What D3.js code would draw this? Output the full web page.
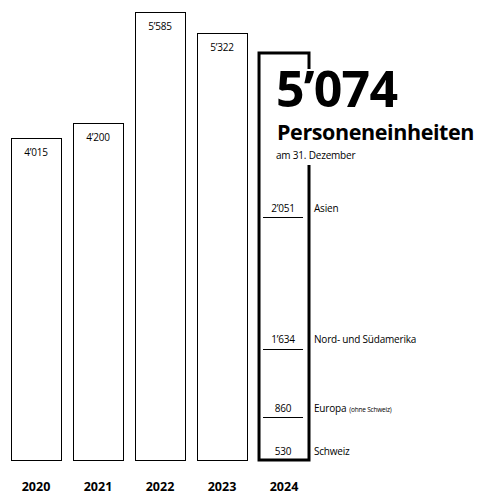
<!DOCTYPE html>
<html>
<head>
<meta charset="utf-8">
<script src="https://cdn.jsdelivr.net/npm/d3@7"></script>
<style>
  html, body { margin: 0; padding: 0; background: #fff; }
  svg { display: block; }
  text { font-family: "Open Sans", "Noto Sans", sans-serif; fill: #000; }
</style>
</head>
<body>
<svg id="chart" width="478" height="496"></svg>
<script>
// Personeneinheiten am 31. Dezember, 2020–2024
const years = ["2020", "2021", "2022", "2023", "2024"];
const totals = [4015, 4200, 5585, 5322, 5074];

// Aufteilung 2024 nach Region (von unten nach oben)
const regions = ["Schweiz", "Europa", "Nord- und Südamerika", "Asien"];
const regionValues = [530, 860, 1634, 2051];
const regionNotes = ["", "(ohne Schweiz)", "", ""];

const titleValue = "5’074";
const titleUnit = "Personeneinheiten";
const titleDate = "am 31. Dezember";

const fmt = v => d3.format(",")(v).replace(/,/g, "’");

const svg = d3.select("#chart");
const baseY = 460;

const x = d3.scaleBand().domain(years).range([11, 309]).paddingInner(0.194).paddingOuter(0);
const y = d3.scaleLinear().domain([0, d3.max(totals)]).range([baseY, 12]);

const past = years.slice(0, 4);
const lastYear = years[4];

// Balken der Vorjahre
svg.append("g").selectAll("rect")
  .data(past)
  .join("rect")
  .attr("x", d => Math.round(x(d)) + 0.5)
  .attr("y", (d, i) => Math.round(y(totals[i])) + 0.5)
  .attr("width", Math.round(x.bandwidth()))
  .attr("height", (d, i) => baseY - Math.round(y(totals[i])))
  .attr("fill", "#fff")
  .attr("stroke", "#000")
  .attr("stroke-width", 1);

svg.append("g").selectAll("text")
  .data(past)
  .join("text")
  .attr("x", d => x(d) + x.bandwidth() / 2)
  .attr("y", (d, i) => y(totals[i]) + 18)
  .attr("text-anchor", "middle")
  .attr("font-size", 10)
  .attr("letter-spacing", -0.2)
  .text((d, i) => fmt(totals[i]));

// Balken 2024, fett umrandet
const x24 = x(lastYear);
const w24 = x.bandwidth();
svg.append("rect")
  .attr("x", x24)
  .attr("y", y(totals[4]))
  .attr("width", w24)
  .attr("height", baseY - y(totals[4]))
  .attr("fill", "#fff")
  .attr("stroke", "#000")
  .attr("stroke-width", 3);

// Regionensegmente
const stackTops = d3.cumsum(regionValues);
const stackBottoms = stackTops.map((t, i) => t - regionValues[i]);

const seg = svg.append("g");
seg.selectAll("line")
  .data(regions.filter((r, i) => stackBottoms[i] > 0))
  .join("line")
  .attr("x1", x24 + 4)
  .attr("x2", x24 + 44)
  .attr("y1", r => Math.round(y(stackBottoms[regions.indexOf(r)])) + 0.5)
  .attr("y2", r => Math.round(y(stackBottoms[regions.indexOf(r)])) + 0.5)
  .attr("stroke", "#000")
  .attr("stroke-width", 1);

seg.selectAll("text.val")
  .data(regions)
  .join("text")
  .attr("class", "val")
  .attr("x", x24 + w24 / 2 - 1)
  .attr("y", (r, i) => y(stackBottoms[i]) - 5.5)
  .attr("text-anchor", "middle")
  .attr("font-size", 10)
  .attr("letter-spacing", -0.2)
  .text((r, i) => fmt(regionValues[i]));

const lab = seg.selectAll("text.lab")
  .data(regions)
  .join("text")
  .attr("class", "lab")
  .attr("x", 314)
  .attr("y", (r, i) => y(stackBottoms[i]) - 5.5)
  .attr("font-size", 10)
  .attr("letter-spacing", -0.2)
  .text(r => r);
lab.filter((r, i) => regionNotes[i] !== "")
  .append("tspan")
  .attr("font-size", 6.5)
  .attr("dx", 3)
  .text((r) => regionNotes[regions.indexOf(r)]);

// Titelblock mit weissem Hintergrund über dem Balkenrand
const tg = svg.append("g");
tg.append("rect")
  .attr("x", 272).attr("y", 69)
  .attr("width", 206).attr("height", 96)
  .attr("fill", "#fff");
tg.append("text")
  .attr("x", 276).attr("y", 107)
  .attr("font-size", 50).attr("font-weight", 700)
  .attr("letter-spacing", -0.8)
  .text(titleValue);
tg.append("text")
  .attr("x", 277).attr("y", 140)
  .attr("font-size", 21.5).attr("font-weight", 700)
  .attr("letter-spacing", -0.4)
  .text(titleUnit);
tg.append("text")
  .attr("x", 276).attr("y", 159)
  .attr("font-size", 10)
  .attr("letter-spacing", -0.2)
  .text(titleDate);

// Jahresachse
const axis = svg.append("g")
  .attr("transform", `translate(0,${baseY})`)
  .call(d3.axisBottom(x).tickSize(0).tickPadding(0));
axis.select(".domain").remove();
axis.selectAll("text")
  .attr("y", 31)
  .attr("dy", 0)
  .attr("font-size", 12.5)
  .attr("font-weight", 700)
  .attr("font-family", "'Open Sans', 'Noto Sans', sans-serif")
  .attr("fill", "#000");
</script>
</body>
</html>
